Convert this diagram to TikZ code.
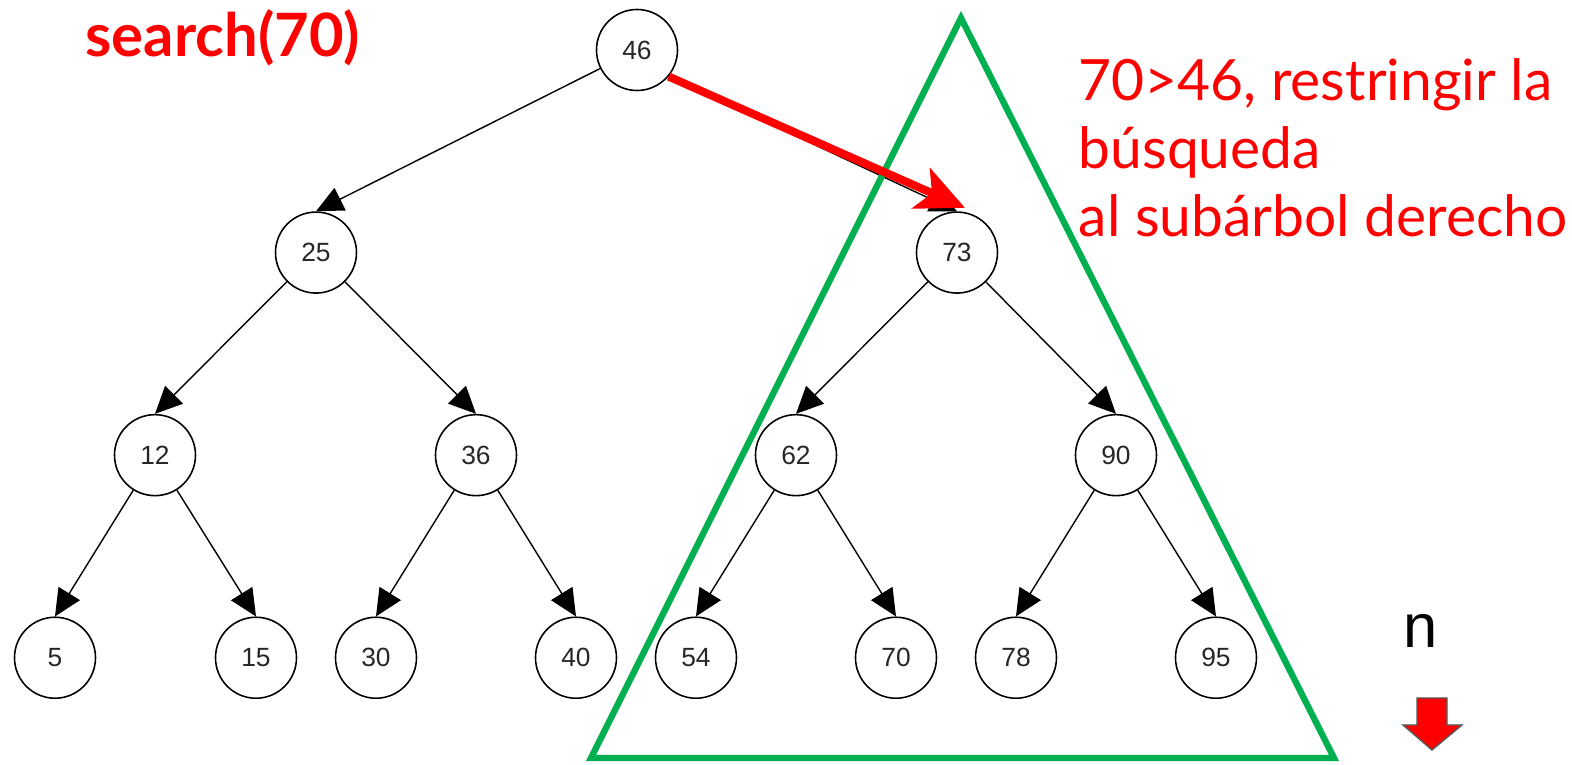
\documentclass[tikz,border=0pt]{standalone}
\usepackage{fontspec}
\setmainfont{Liberation Sans}
\newfontfamily\latofont{Lato}
\usetikzlibrary{arrows.meta,positioning,calc}
\usepackage{xcolor}
\definecolor{pptgreen}{RGB}{0,176,80}

\begin{document}
\begin{tikzpicture}[
  node distance=1.2cm,%
  every node/.style={inner sep=0pt,},%
  k/.style={circle,draw,line width=0.45pt,minimum size=0.81cm,%
    font=\fontsize{7.5}{9}\selectfont,text=black!85,},%
  e/.style={-{Triangle[length=2.7mm,width=2.5mm]},line width=0.4pt,},%
  re/.style={-{Stealth[length=4.8mm,width=4.4mm,inset=1.2mm]},red,line width=2.3pt,},%
  tri/.style={draw=pptgreen,line width=1.8pt,line join=miter,},%
  lbl/.style={text=red,font=\latofont\fontsize{16.2}{19.4}\selectfont,},%
  ]
  \useasboundingbox (0,0) rectangle (15.72,7.65);

  % the tree
  \node (n46) [k] at (6.37,7.15) {46};
  \node (n25) [k,below=of n46,xshift=-3.21cm] {25};
  \node (n73) [k,below=of n46,xshift=3.2cm] {73};
  \node (n12) [k,below=of n25,xshift=-1.61cm] {12};
  \node (n36) [k,below=of n25,xshift=1.6cm] {36};
  \node (n62) [k,below=of n73,xshift=-1.61cm] {62};
  \node (n90) [k,below=of n73,xshift=1.59cm] {90};
  \node (n5)  [k,below=of n12,xshift=-1cm] {5};
  \node (n15) [k,below=of n12,xshift=1.01cm] {15};
  \node (n30) [k,below=of n36,xshift=-1cm] {30};
  \node (n40) [k,below=of n36,xshift=1cm] {40};
  \node (n54) [k,below=of n62,xshift=-1cm] {54};
  \node (n70) [k,below=of n62,xshift=1cm] {70};
  \node (n78) [k,below=of n90,xshift=-1cm] {78};
  \node (n95) [k,below=of n90,xshift=1cm] {95};

  \draw [e] (n46) -- (n25.north);
  \draw [e] (n46.-40) -- (n73.north);
  \draw [e] (n25) -- (n12.north);
  \draw [e] (n25) -- (n36.north);
  \draw [e] (n73) -- (n62.north);
  \draw [e] (n73) -- (n90.north);
  \draw [e] (n12) -- (n5.north);
  \draw [e] (n12) -- (n15.north);
  \draw [e] (n36) -- (n30.north);
  \draw [e] (n36) -- (n40.north);
  \draw [e] (n62) -- (n54.north);
  \draw [e] (n62) -- (n70.north);
  \draw [e] (n90) -- (n78.north);
  \draw [e] (n90) -- (n95.north);

  % right subtree
  \draw [tri] (9.61,7.47) -- (5.91,0.07) -- (13.34,0.07) -- cycle;
  \draw [re] (n46.-40) -- ($(n73.north)+(0.08,0.035)$);

  \node (call) [anchor=base west,text=red,%
    font=\latofont\bfseries\fontsize{17}{20}\selectfont] at (0.85,7.08) {search(70)};
  \node (note) [lbl,anchor=base west,align=left] at (10.78,5.28)
  {70>46, restringir la\\búsqueda\\al subárbol derecho};

  \node (size) [anchor=base,font=\fontsize{17.5}{20}\selectfont] at (14.21,1.17) {n};
  \filldraw [fill=red,draw=gray!70!black,line width=0.4pt] (14.17,0.67) -- (14.47,0.67)
  -- (14.47,0.40) -- (14.62,0.40) -- (14.32,0.15) -- (14.03,0.40) -- (14.17,0.40) -- cycle;
\end{tikzpicture}
\end{document}
